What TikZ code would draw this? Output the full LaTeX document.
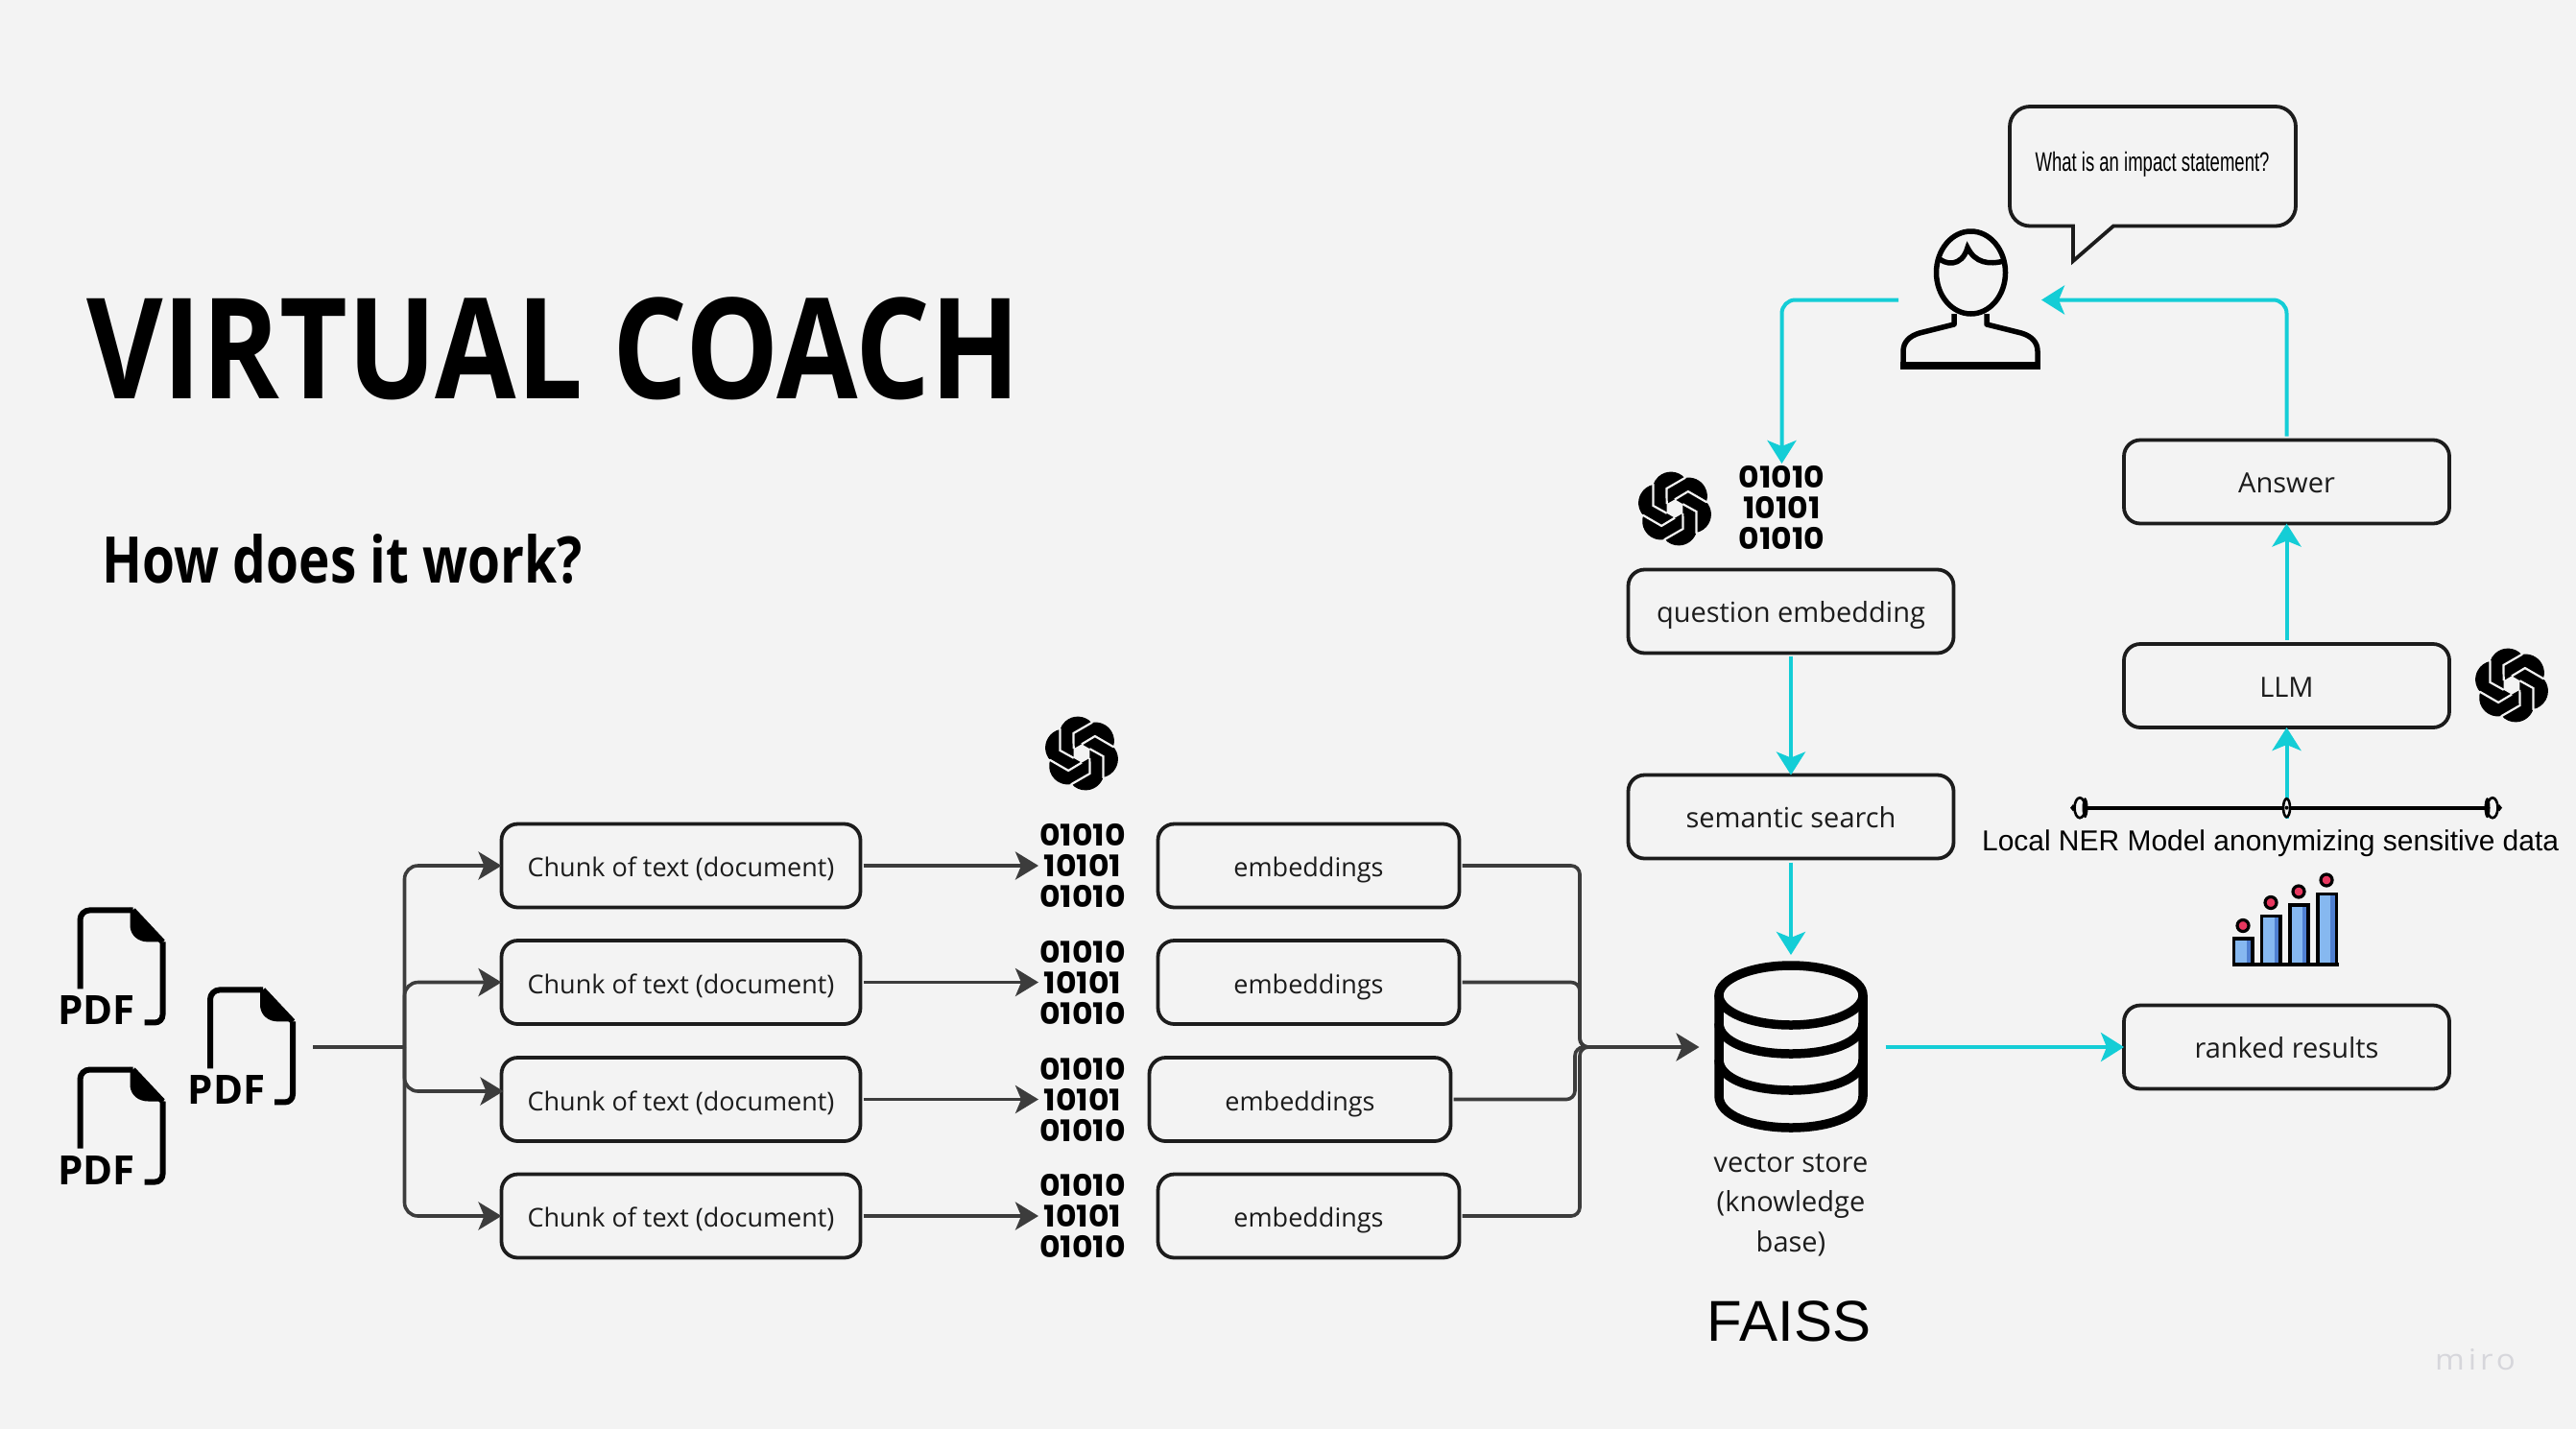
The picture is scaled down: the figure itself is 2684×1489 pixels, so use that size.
\documentclass[tikz,border=0pt]{standalone}
\usepackage{fontspec}
\usepackage{graphicx}
\setmainfont{Open Sans}
\newfontfamily\arialfont{Liberation Sans}
\newfontfamily\digitfont{Poppins}
\usetikzlibrary{arrows.meta,shapes.geometric,svg.path,calc}
\definecolor{bgc}{HTML}{F3F3F3}
\definecolor{cyanc}{HTML}{14CDD6}
\definecolor{darkc}{HTML}{3C3C3C}
\definecolor{inkc}{HTML}{1C1C1C}
\definecolor{barc}{HTML}{86B8F0}
\definecolor{barb}{HTML}{4F7FD0}
\definecolor{dotc}{HTML}{E8375F}
\definecolor{miroc}{HTML}{D6D6DB}
\tikzset{
  boxn/.style={draw=inkc,line width=3.8pt,rounded corners=17pt,inner sep=0pt,outer sep=0pt,
    minimum height=87pt,text=inkc,text height=23pt,text depth=0pt,font=\fontsize{29}{34}\selectfont},
  chunkbox/.style={boxn,minimum width=374pt,font=\fontsize{27}{34}\selectfont},
  embbox/.style={boxn,minimum width=314pt,font=\fontsize{27}{34}\selectfont},
  bigbox/.style={boxn,minimum width=339pt},
  binary/.style={inner sep=0pt,outer sep=0pt,minimum width=92pt,minimum height=92pt,align=center,text=black,
    font=\digitfont\bfseries\fontsize{31}{32}\selectfont},
  grayline/.style={draw=darkc,line width=3.6pt,rounded corners=14pt,-{Stealth[length=24pt,width=29pt,inset=6pt]}},
  grayplain/.style={draw=darkc,line width=3.6pt,rounded corners=14pt},
  cyanline/.style={draw=cyanc,line width=4pt,rounded corners=14pt,-{Stealth[length=24pt,width=30pt,inset=6pt]}},
  iconstroke/.style={draw=black,line width=6pt,line join=round},
  capt/.style={inner sep=0pt,outer sep=0pt,text=inkc,font=\fontsize{29}{34}\selectfont},
  markr/.style={ellipse,draw=black,fill=bgc,line width=2.6pt,minimum width=11pt,minimum height=21pt,inner sep=0pt,outer sep=0pt},
}
\newcommand{\bintext}{\scalebox{1.07}[1]{01010}\\\scalebox{1.07}[1]{10101}\\\scalebox{1.07}[1]{01010}}
\newcommand{\logoat}[2]{%
  \begin{scope}[shift={(#1,#2)},yscale=-1,scale=3.2,shift={(-12pt,-12pt)}]
  \fill[black] svg {M22.2819 9.8211a5.9847 5.9847 0 0 0-.5157-4.9108 6.0462 6.0462 0 0 0-6.5098-2.9A6.0651 6.0651 0 0 0 4.9807 4.1818a5.9847 5.9847 0 0 0-3.9977 2.9 6.0462 6.0462 0 0 0 .7427 7.0966 5.98 5.98 0 0 0 .511 4.9107 6.051 6.051 0 0 0 6.5146 2.9001A5.9847 5.9847 0 0 0 13.2599 24a6.0557 6.0557 0 0 0 5.7718-4.2058 5.9894 5.9894 0 0 0 3.9977-2.9001 6.0557 6.0557 0 0 0-.7475-7.0729z};
  \foreach \a in {0,60,...,300}{
    \draw[draw=bgc,line width=2.2pt,line join=miter,rotate around={\a:(12pt,12pt)}] (4.6pt,3.8pt) -- (4.98pt,4.18pt) -- (4.98pt,11.05pt) -- (9.4pt,13.5pt);
  }
  \fill[bgc] svg {M9.4041 10.4976l2.602-1.4998 2.6069 1.4998v2.9994l-2.5974 1.4997-2.6067-1.4997Z};
  \end{scope}}
\newcommand{\pdficon}[3]{%
  \begin{scope}[shift={(#2,#3)}]
  \draw[iconstroke,line cap=butt,rounded corners=10pt] (3,85) -- (3,3) -- (58,3);
  \draw[iconstroke,line cap=butt] (58,3) -- (89,36);
  \draw[iconstroke,line cap=butt,rounded corners=8pt] (89,36) -- (89,120) -- (70,120);
  \fill[black] (55,0) -- (55,20) .. controls (56,30) and (64,36) .. (74,36) -- (91,36) -- cycle;
  \node[inner sep=0pt,anchor=base,text=black,font=\bfseries\fontsize{42}{42}\selectfont] (#1) at (20,122.5) {PDF};
  \end{scope}}
\begin{document}
\begin{tikzpicture}[x=1pt,y=-1pt]
\useasboundingbox (0,0) rectangle (2684,1489);
\fill[bgc] (0,0) rectangle (2684,1489);

% titles
\node[anchor=base west,inner sep=0pt,text=black,font=\bfseries\fontsize{146}{146}\selectfont] (title) at (90,415) {\resizebox{973pt}{\height}{VIRTUAL COACH}};
\node[anchor=base west,inner sep=0pt,text=black,font=\bfseries\fontsize{67}{67}\selectfont] (howq) at (106.5,607) {\resizebox{500pt}{\height}{How does it work?}};

% pdf icons
\pdficon{pdfA}{80.5}{945.4}
\pdficon{pdfB}{80.5}{1111.5}
\pdficon{pdfC}{216}{1028.4}
\coordinate (pdfout) at (326,1091);
\coordinate (fork) at (421.5,1091);
\coordinate (c3in) at (524.5,1137);

% chunks
\node[chunkbox] (c1) at (709.5,902) {Chunk of text (document)};
\node[chunkbox] (c2) at (709.5,1023.5) {Chunk of text (document)};
\node[chunkbox] (c3) at (709.5,1145.5) {Chunk of text (document)};
\node[chunkbox] (c4) at (709.5,1267) {Chunk of text (document)};

% binaries
\node[binary] (b1) at (1128,902) {\bintext};
\node[binary] (b2) at (1128,1023.5) {\bintext};
\node[binary] (b3) at (1128,1145.5) {\bintext};
\node[binary] (b4) at (1128,1267) {\bintext};
\node[binary] (qbin) at (1856.5,529) {\bintext};

% embeddings
\node[embbox] (e1) at (1363.5,902) {embeddings};
\node[embbox] (e2) at (1363.5,1023.5) {embeddings};
\node[embbox] (e3) at (1354.5,1145.5) {embeddings};
\node[embbox] (e4) at (1363.5,1267) {embeddings};

% database
\node[inner sep=0pt,outer sep=0pt,minimum width=157pt,minimum height=176pt] (db) at (1866,1091) {};
\draw[draw=black,line width=9.5pt] (1866,1037) ellipse [x radius=75,y radius=31];
\draw[draw=black,line width=9.5pt] (1791,1037) -- (1791,1142) .. controls (1791,1162) and (1825,1175) .. (1866,1175) .. controls (1907,1175) and (1941,1162) .. (1941,1142) -- (1941,1037);
\draw[draw=black,line width=9.5pt] (1791,1066) .. controls (1791,1086) and (1825,1098) .. (1866,1098) .. controls (1907,1098) and (1941,1086) .. (1941,1066);
\draw[draw=black,line width=9.5pt] (1791,1104) .. controls (1791,1124) and (1825,1136) .. (1866,1136) .. controls (1907,1136) and (1941,1124) .. (1941,1104);
\node[capt,align=center,font=\fontsize{29}{41.5}\selectfont,anchor=north] (vstore) at (1866,1202) {vector store\\(knowledge\\base)};
\node[capt,anchor=base,text=black,font=\arialfont\fontsize{60}{60}\selectfont] (faiss) at (1864,1397) {FAISS};

% right boxes
\node[bigbox] (qe) at (1866,637) {question embedding};
\node[bigbox] (ss) at (1866,851) {semantic search};
\node[bigbox] (ans) at (2382.5,502) {Answer};
\node[bigbox] (llm) at (2382.5,714.5) {LLM};
\node[bigbox] (rank) at (2382.5,1091) {ranked results};

% user
\node[inner sep=0pt,outer sep=0pt,minimum width=143pt,minimum height=143pt] (user) at (2052.5,312.5) {};
\draw[draw=black,line width=5.5pt] (2053.5,284) ellipse [x radius=36,y radius=43];
\draw[draw=black,line width=5.5pt] (2019,268) .. controls (2026,276) and (2044,279) .. (2050,258) .. controls (2058,274) and (2072,276) .. (2088,272);
\draw[draw=black,line width=5.5pt,line join=round] (2036,327) -- (2036,338) -- (2000,347) .. controls (1990,350) and (1983,356) .. (1983,366) -- (1983,381) -- (2123,381) -- (2123,366) .. controls (2123,356) and (2116,350) .. (2106,347) -- (2070,338) -- (2070,327);
\draw[draw=black,line width=8pt] (1980,381) -- (2126,381);

% bubble
\draw[draw=inkc,line width=3.8pt,line join=miter] (2120,235.5) [rounded corners=21pt] -- (2094,235.5) -- (2094,111) -- (2392,111) -- (2392,235.5) [rounded corners=0pt] -- (2202,235.5) -- (2160,272) -- (2160,235.5) -- (2120,235.5);
\node[inner sep=0pt,anchor=base,text=black,font=\arialfont\fontsize{28}{28}\selectfont] (bubble) at (2242.5,178) {\resizebox{244pt}{\height}{What is an impact statement?}};

% connectors gray
\draw[grayplain,rounded corners=0pt] (pdfout) -- (fork);
\draw[grayline] (fork) |- (c1.west);
\draw[grayline] (fork) |- (c2.west);
\draw[grayline] (fork) |- (c3in);
\draw[grayline] (fork) |- (c4.west);
\draw[grayline,shorten <=3pt] (c1.east) -- (b1.west);
\draw[grayline,shorten <=3pt] (c2.east) -- (b2.west);
\draw[grayline,shorten <=3pt] (c3.east) -- (b3.west);
\draw[grayline,shorten <=3pt] (c4.east) -- (b4.west);
\coordinate (mA) at (1646,1091);
\coordinate (mB) at (1641,1091);
\coordinate (mC) at (1690,1091);
\draw[grayplain,rounded corners=9pt,shorten <=3pt] (e1.east) -| (mA) -- (mC);
\draw[grayplain,rounded corners=9pt,shorten <=3pt] (e2.east) -| (mA) -- (mC);
\draw[grayplain,rounded corners=9pt,shorten <=3pt] (e3.east) -| (mB) -- (mC);
\draw[grayplain,rounded corners=9pt,shorten <=3pt] (e4.east) -| (mA) -- (mC);
\draw[grayline,shorten >=17pt] (mC) -- (db.west);

% connectors cyan
\draw[cyanline,shorten <=3pt] (user.west) -| (qbin.north);
\draw[cyanline,shorten <=4pt,shorten >=3pt] (ans.north) |- (user.east);
\draw[cyanline,shorten <=3pt] (qe.south) -- (ss.north);
\draw[cyanline,shorten <=4pt,shorten >=8pt] (ss.south) -- (db.north);
\draw[cyanline,shorten <=20pt] (db.east) -- (rank.west);
\draw[cyanline,shorten <=4pt] (llm.north) -- (ans.south);
\coordinate (nerM) at (2382.5,841.7);
\draw[cyanline,rounded corners=0pt] ([yshift=-11pt]nerM) -- (llm.south);

% NER line
\node[markr] (nerL) at (2167,841.7) {};
\node[markr] (nerR) at (2597,841.7) {};
\draw[draw=black,line width=3.8pt] (nerL) -- (nerR);
\fill[black] (2172.5,841.7) ellipse [x radius=3,y radius=10.5];
\fill[black] (2591.5,841.7) ellipse [x radius=3,y radius=10.5];
\fill[black] (2157,841.7) -- (2160,838) -- (2163,841.7) -- (2160,845.4) -- cycle;
\fill[black] (2607,841.7) -- (2604,838) -- (2601,841.7) -- (2604,845.4) -- cycle;
\node[markr,minimum width=7pt,minimum height=19pt] (nerC) at (nerM) {};
\fill[black] (nerM) circle (2pt);
\node[inner sep=0pt,anchor=base,text=black,font=\arialfont\fontsize{30}{30}\selectfont] (ner) at (2365.6,886) {\resizebox{601pt}{\height}{Local NER Model anonymizing sensitive data}};

% chart
\foreach \x/\t in {2327.5/978,2356.6/954.5,2385.7/943,2414.8/931.5}{
  \fill[barc] (\x,\t) rectangle ++(19.5,1004-\t);
  \fill[barb] (\x+13,\t) rectangle ++(6.5,1004-\t);
  \draw[draw=black,line width=3.6pt] (\x,1004) -- (\x,\t) -- ++(19.5,0) -- (\x+19.5,1004);
}
\draw[draw=black,line width=4.5pt] (2325.5,1005) -- (2436.5,1005);
\foreach \x/\y in {2337/964.5,2366/940.5,2395/929,2424/917}{
  \draw[draw=black,fill=dotc,line width=3.2pt] (\x,\y) circle (6pt);
}

% logos
\logoat{1745}{530}
\logoat{1127}{785}
\logoat{2617}{714}

% watermark
\node[inner sep=0pt,anchor=base,text=miroc,font=\fontsize{30}{30}\selectfont\addfontfeature{LetterSpace=12}] (miro) at (2579,1427) {\resizebox{84pt}{\height}{miro}};
\end{tikzpicture}
\end{document}
